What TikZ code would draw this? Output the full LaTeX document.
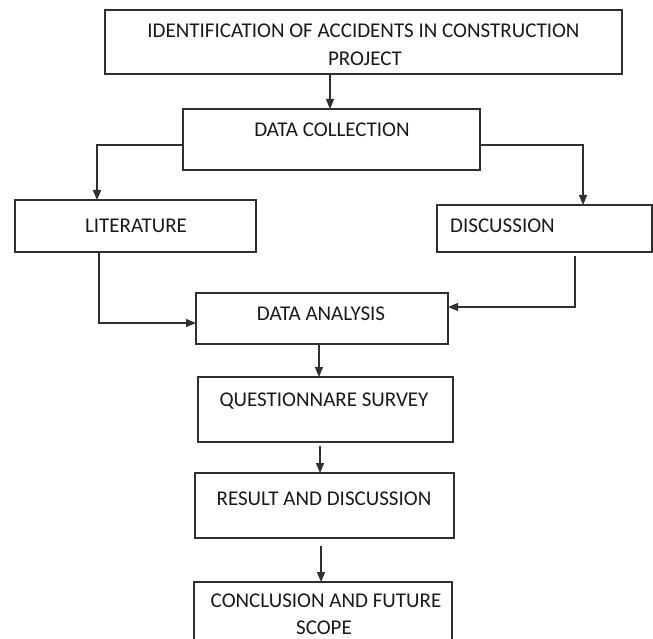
\documentclass[tikz,border=0pt]{standalone}
\usepackage{fontspec}
\setmainfont{Carlito}
\usetikzlibrary{arrows.meta}
\definecolor{ln}{HTML}{303030}
\definecolor{tx}{HTML}{1A1A1A}
\begin{document}
\begin{tikzpicture}[x=1pt,y=-1pt,
  box/.style={draw=ln,line width=1.3pt,rectangle,inner sep=0pt,outer sep=0pt},
  txt/.style={text=tx,inner sep=0pt,anchor=base,font=\fontsize{21}{28}\selectfont},
  arr/.style={draw=ln,line width=1.2pt,-{Triangle[length=10pt,width=8pt]}}]
\useasboundingbox (0,0) rectangle (653,639);
\fill[white] (0,0) rectangle (653,639);
\clip (0,0) rectangle (653,639);
% boxes
\node[box,minimum width=517pt,minimum height=64pt] (top) at (363.5,42) {};
\node[box,minimum width=297pt,minimum height=61pt] (dc) at (331.5,139.5) {};
\node[box,minimum width=241pt,minimum height=52pt] (lit) at (135.5,226) {};
\node[box,minimum width=215pt,minimum height=47pt] (disc) at (544.5,228.5) {};
\node[box,minimum width=252pt,minimum height=51pt] (da) at (322,318.5) {};
\node[box,minimum width=255pt,minimum height=65pt] (qs) at (325.5,409.5) {};
\node[box,minimum width=259pt,minimum height=65pt] (rd) at (324.5,505.5) {};
\node[box,minimum width=258pt,minimum height=70pt] (cf) at (323,617) {};
% texts
\node[txt] (t1) at (363.5,38) {IDENTIFICATION OF ACCIDENTS IN CONSTRUCTION};
\node[txt] (t2) at (365,66) {PROJECT};
\node[txt] (t3) at (332,137) {DATA COLLECTION};
\node[txt] (t4) at (136,233) {LITERATURE};
\node[txt,anchor=base west] (t5) at (450,233) {DISCUSSION};
\node[txt] (t6) at (321,320) {DATA ANALYSIS};
\node[txt] (t7) at (324,406) {QUESTIONNARE SURVEY};
\node[txt] (t8) at (324,505) {RESULT AND DISCUSSION};
\node[txt] (t9) at (326,607) {CONCLUSION AND FUTURE};
\node[txt] (t10) at (324,634) {SCOPE};
% connectors
\draw[arr] ([xshift=-1.5pt]dc.north |- top.south) -- ([xshift=-1.5pt]dc.north);
\draw[arr] ([yshift=-5.5pt]dc.west) -| ([xshift=-38.5pt]lit.north);
\draw[arr] ([yshift=-5.5pt]dc.east) -| ([xshift=38.5pt]disc.north);
\draw[arr] ([xshift=-36.5pt]lit.south) |- ([yshift=-4.5pt]da.west);
\draw[arr] ([xshift=30.5pt,yshift=-4pt]disc.south) |- ([yshift=11.5pt]da.east);
\draw[arr] ([xshift=-3pt]da.south) -- ([xshift=-3pt]da.south |- qs.north);
\draw[arr] ([xshift=-5.5pt,yshift=-4pt]qs.south) -- ([xshift=-5.5pt]qs.south |- rd.north);
\draw[arr] ([xshift=-3.5pt,yshift=-8pt]rd.south) -- ([xshift=-3.5pt]rd.south |- cf.north);
\end{tikzpicture}
\end{document}
